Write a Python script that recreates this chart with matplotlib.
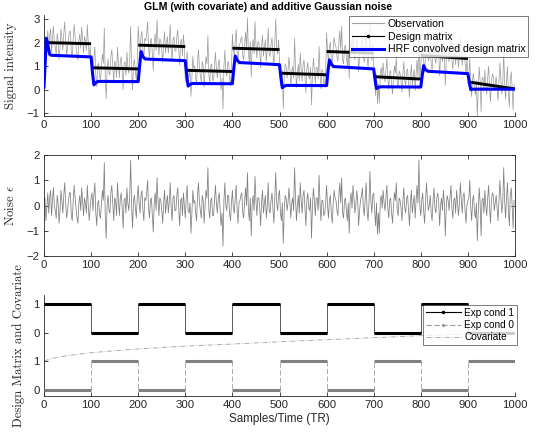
import numpy as np
import matplotlib
matplotlib.use("Agg")
import matplotlib.pyplot as plt
from matplotlib.lines import Line2D

plt.rcParams['font.family'] = ['Liberation Sans', 'DejaVu Sans']
plt.rcParams['mathtext.fontset'] = 'cm'

# ---------------- data ----------------
block_edges = [0, 100, 200, 300, 400, 500, 600, 700, 800, 900, 1000]
cond1 = [1, 0, 1, 0, 1, 0, 1, 0, 1, 0]
cond0 = [0, 1, 0, 1, 0, 1, 0, 1, 0, 1]

# design matrix (with covariate) value at start / end of each block
design_start = [2.00, 0.93, 1.89, 0.82, 1.76, 0.70, 1.62, 0.55, 1.45, 0.33]
design_end   = [1.95, 0.88, 1.83, 0.77, 1.70, 0.63, 1.55, 0.45, 1.32, 0.03]

# HRF convolved design matrix (key points)
hrf_t = [0, 5, 8, 12, 15, 100, 103, 106, 110, 115, 200, 203, 206, 210, 215, 300,
         303, 306, 310, 315, 400, 403, 406, 410, 415, 500, 503, 506, 510, 515, 600,
         603, 606, 610, 615, 700, 703, 706, 710, 715, 800, 803, 806, 810, 815, 900,
         903, 906, 910, 1000]
hrf_v = [0.1, 2.18, 1.9, 1.5, 1.46, 1.39, 0.7, 0.2, 0.3, 0.35, 0.34, 1.0, 1.62, 1.4, 1.3, 1.23,
         0.6, 0.15, 0.22, 0.26, 0.25, 0.9, 1.43, 1.25, 1.15, 1.06, 0.5, 0.08, 0.15, 0.18, 0.17,
         0.8, 1.26, 1.08, 0.98, 0.88, 0.4, 0.05, 0.1, 0.12, 0.11, 0.6, 1.02, 0.85, 0.78, 0.68,
         0.3, 0.0, 0.02, 0.02]

# Gaussian noise (sampled every 2 TR)
noise = [
    0.1, 0.3, -0.6, -0.1, 0.5, -0.3, 0.3, 0.6, -0.4, 0.2, 0.7, 0.0, -0.2, -0.5, 0.4, 0.1, -0.7, -0.2, 0.6, 0.2,
    -0.3, 0.4, 0.9, 0.1, -0.5, -0.2, 0.2, 0.5, 0.5, -0.4, -0.6, 0.2, 0.8, 0.3, -0.1, -0.5, -0.7, 0.1, 0.4, -0.2,
    0.7, 0.2, -0.4, 0.3, 0.1, -0.3, 0.8, 0.0, -0.6, -0.1, 0.3, 0.5, -0.2, 0.4, 0.9, -0.3, -0.8, 0.1, 0.2, -0.4,
    -0.5, 0.1, 0.6, 0.2, 1.7, -0.4, -1.3, 0.0, 0.4, -0.2, -0.3, 0.5, 0.8, 0.1, -0.6, 0.3, 0.2, -0.4, 0.9, 0.2,
    -0.4, 0.3, 0.5, -0.1, -0.9, 0.2, 0.3, -0.3, 0.7, 0.1, -0.2, 0.4, 1.8, 0.0, -0.9, 0.2, 0.4, -0.1, -0.5, 0.3,
    0.8, 0.1, -0.3, 0.4, 0.6, -0.2, -0.6, 0.3, 0.2, 0.5, 1.0, -0.1, -0.5, 0.2, 0.3, -0.4, -1.05, 0.1, 0.5, -0.2,
    1.1, 0.2, -0.4, 0.3, 0.2, -0.2, -0.7, 0.1, 0.6, -0.3, 0.1, 0.4, -0.3, 0.2, 0.9, -0.1, -0.6, 0.3, 0.4, -0.2,
    -0.2, 0.4, 0.7, -0.1, -0.8, 0.2, 0.3, -0.4, 0.5, 0.0, -0.5, 0.3, 0.8, -0.2, -0.3, 0.1, -1.1, -0.3, 0.6, 0.1,
    0.2, -0.3, -0.6, 0.4, 0.9, 0.1, -0.2, -0.5, 0.4, 0.2, -0.7, 0.0, 0.6, 0.3, 1.5, -0.2, -0.5, 0.2, 0.3, -0.4,
    -0.4, 0.2, 0.8, 0.1, -0.3, 0.3, 0.5, -0.2, -0.8, -0.3, -1.6, 0.2, 0.9, 0.0, -0.2, 0.4, 0.4, -0.3, -0.6, 0.1,
    0.6, -0.1, -0.3, 0.3, 0.8, -0.2, -0.7, 0.1, 0.2, 0.4, 0.5, -0.3, -0.5, 0.2, 0.7, 0.0, 1.3, -0.2, -0.6, 0.3,
    -1.2, 0.1, 0.4, -0.2, 1.15, 0.2, -0.4, 0.3, 0.3, -0.1, -0.8, 0.2, 0.6, -0.3, 0.1, 0.4, -0.5, 0.0, 0.9, -0.2,
    -0.3, 0.2, 0.5, -0.1, -0.7, 0.3, 1.3, 0.1, -0.2, 0.4, 0.6, -0.3, -0.6, 0.1, -1.5, -0.2, 0.4, 0.3, -0.2, 0.1,
    0.7, 0.2, -0.5, 0.1, 0.3, -0.2, 1.5, 0.3, -0.6, 0.0, 0.4, -0.3, 0.9, 0.2, -0.3, 0.4, 0.6, -0.1, -0.8, 0.2,
    0.5, -0.1, -0.2, 0.3, -1.3, 0.0, 0.7, 0.2, -0.4, 0.3, 0.3, -0.2, 1.2, 0.1, -0.6, 0.2, 0.2, -0.4, -0.3, 0.1,
    0.8, 0.0, -0.5, 0.2, 0.4, -0.3, -0.7, 0.1, 0.6, 0.3, 0.2, -0.2, -0.4, 0.4, 0.9, 0.1, 1.1, -0.3, -0.5, 0.2,
    0.3, -0.2, -0.6, 0.1, -1.1, 0.2, 0.5, -0.1, 0.8, 0.3, -0.3, 0.0, 0.6, 0.2, -0.8, -0.2, 0.2, 0.4, 0.7, -0.1,
    -0.4, 0.3, 0.9, -0.2, -0.6, 0.1, 1.35, 0.2, -0.3, 0.4, 0.5, -0.2, -0.8, 0.1, -1.15, -0.3, -1.1, 0.2, 0.4, -0.1,
    0.6, 0.1, -0.2, 0.3, 0.8, -0.1, -0.5, 0.2, 0.3, -0.3, -0.7, 0.0, 0.5, 0.2, 0.9, -0.2, -0.4, 0.3, 0.2, -0.1,
    -0.6, 0.2, 0.7, -0.1, -0.3, 0.3, 0.4, -0.2, -0.8, 0.1, 0.6, -0.3, 0.1, 0.4, -0.5, 0.2, 0.8, 0.1, 1.8, 0.0,
    -0.4, 0.2, 0.5, -0.2, -0.7, 0.1, 0.9, 0.3, -0.2, 0.0, 0.4, -0.3, -0.6, 0.2, 0.7, -0.1, -0.3, 0.3, 0.5, 0.1,
    -0.8, 0.0, 0.3, -0.2, 0.6, 0.1, -1.2, -0.1, 0.4, 0.2, -0.2, 0.3, 0.8, -0.1, -0.5, 0.2, 0.3, -0.3, 0.6, 0.1,
    -0.4, 0.1, 0.9, 0.2, -0.3, 0.4, 0.5, -0.2, -0.7, 0.0, 0.2, 0.3, 1.0, -0.1, -0.6, 0.2, 0.4, -0.3, -0.5, 0.1,
    -1.4, -0.2, 0.7, 0.1, -1.2, 0.2, 0.3, -0.3, 0.6, 0.0, -0.4, 0.3, 0.8, -0.1, -0.7, 0.2, 0.5, 0.4, -0.2, 0.1,
    0.4, -0.1, -0.6, 0.2, 1.0, 0.3, -0.3, 0.1, 1.5, 0.2, -0.5, 0.3, 0.9, -0.2, -0.8, 0.4, 0.7, 0.0, -0.9, 0.2,
]

# covariate (key points)
cov_t = [0, 10, 25, 50, 100, 150, 200, 300, 400, 500, 600, 700, 800, 900, 1000]
cov_v = [1.0, 1.07, 1.13, 1.2, 1.3, 1.37, 1.43, 1.53, 1.6, 1.68, 1.75, 1.82, 1.89, 1.95, 2.0]

xticks = [0, 100, 200, 300, 400, 500, 600, 700, 800, 900, 1000]

# ---------------- figure ----------------
W, H = 536, 433
fig = plt.figure(figsize=(W / 100, H / 100), dpi=100)

def axes_px(left, top, right, bottom):
    return fig.add_axes([left / W, 1 - bottom / H, (right - left) / W, (bottom - top) / H])

axcol = '#262626'
tick_fs = 8.2
serif = ['cmr10', 'DejaVu Serif']

def style(ax, box):
    for s in ['top', 'right']:
        ax.spines[s].set_visible(box)
    for s in ax.spines.values():
        s.set_color(axcol)
        s.set_linewidth(0.6)
    ax.tick_params(direction='in', length=3, width=0.6, color=axcol, labelsize=tick_fs,
                   labelcolor=axcol, pad=3, top=box, right=box)
    ax.set_xlim(0, 1000)
    ax.set_xticks(xticks)

noise_t = np.linspace(0, 1000, len(noise), endpoint=False)
noise_a = np.array(noise)

# ---- panel 1 ----
ax1 = axes_px(44, 15, 515, 116)
style(ax1, False)
design_at_noise = np.zeros_like(noise_t)
for i in range(len(cond1)):
    a, b = block_edges[i], block_edges[i + 1]
    m = (noise_t >= a) & (noise_t < b)
    design_at_noise[m] = np.interp(noise_t[m], [a, b], [design_start[i], design_end[i]])
obs = design_at_noise + noise_a
ax1.plot(noise_t, obs, color='#9a9a9a', lw=0.5, zorder=1)
for i in range(len(cond1)):
    ax1.plot([block_edges[i], block_edges[i + 1]], [design_start[i], design_end[i]],
             color='black', lw=2.1, solid_capstyle='butt', zorder=2)
ax1.plot(hrf_t, hrf_v, color='#0000ff', lw=2.2, zorder=3)
ax1.set_ylim(-1.12, 3.17)
ax1.set_yticks([-1, 0, 1, 2, 3])
ax1.set_ylabel('Signal intensity', fontsize=9.2, color=axcol, family=serif)
ax1.yaxis.set_label_coords(-0.057, 0.5)
h1 = [Line2D([], [], color='#a0a0a0', lw=0.8),
      Line2D([], [], color='black', lw=0.8, marker='.', markersize=3),
      Line2D([], [], color='#0000ff', lw=2.2)]
leg1 = ax1.legend(h1, ['Observation', 'Design matrix', 'HRF convolved design matrix'],
                  loc='upper right', bbox_to_anchor=(528 / W, 1 - 16.5 / H),
                  bbox_transform=fig.transFigure, fontsize=7.6, frameon=True, fancybox=False,
                  handlelength=3.0, handletextpad=0.4, borderpad=0.25, labelspacing=0.25,
                  borderaxespad=0)
leg1.get_frame().set_edgecolor('#404040')
leg1.get_frame().set_linewidth(0.6)
leg1.set_zorder(10)

# ---- panel 2 ----
ax2 = axes_px(44, 155, 515, 256)
style(ax2, True)
ax2.plot(noise_t, noise_a, color='#7f7f7f', lw=0.55)
ax2.set_ylim(-2, 2)
ax2.set_yticks([-2, -1, 0, 1, 2])
ax2.set_ylabel(r'Noise $\epsilon$', fontsize=9.2, color=axcol, family=serif)
ax2.yaxis.set_label_coords(-0.057, 0.5)

# ---- panel 3 ----
ax3 = axes_px(44, 295, 515, 396)
style(ax3, False)
off1, off0 = 2, 0
for i in range(len(cond1)):
    a, b = block_edges[i], block_edges[i + 1]
    ax3.plot([a, b], [off1 + cond1[i]] * 2, color='black', lw=2.2, solid_capstyle='butt', zorder=3)
    ax3.plot([a, b], [off0 + cond0[i]] * 2, color='#808080', lw=2.2, solid_capstyle='butt', zorder=3)
    if i > 0:
        ax3.plot([a, a], [off1 + cond1[i - 1], off1 + cond1[i]], color='#404040', lw=0.6, zorder=2)
        ax3.plot([a, a], [off0 + cond0[i - 1], off0 + cond0[i]], color='#a0a0a0', lw=0.6,
                 ls=(0, (6, 3)), zorder=2)
ax3.plot(cov_t, cov_v, color='#a0a0a0', lw=0.6, ls=(0, (6, 2, 1, 2)), zorder=1)
ax3.set_ylim(-0.2, 3.3)
ax3.set_yticks([0, 1, 2, 3])
ax3.set_yticklabels(['0', '1', '0', '1'])
ax3.set_xlabel('Samples/Time (TR)', fontsize=8.4, color=axcol, labelpad=2)
ax3.set_ylabel('Design Matrix and Covariate', fontsize=9.2, color=axcol, family=serif)
ax3.yaxis.set_label_coords(-0.04, 0.5)
h3 = [Line2D([], [], color='black', lw=0.8, marker='.', markersize=3),
      Line2D([], [], color='#a0a0a0', lw=0.8, ls=(0, (5, 2)), marker='.', markersize=3),
      Line2D([], [], color='#a0a0a0', lw=0.6, ls=(0, (6, 2, 1, 2)))]
leg3 = ax3.legend(h3, ['Exp cond 1', 'Exp cond 0', 'Covariate'],
                  loc='upper right', bbox_to_anchor=(517 / W, 1 - 305 / H),
                  bbox_transform=fig.transFigure, fontsize=7.2, frameon=True, fancybox=False,
                  handlelength=3.5, handletextpad=0.4, borderpad=0.25, labelspacing=0.25,
                  borderaxespad=0)
leg3.get_frame().set_edgecolor('#404040')
leg3.get_frame().set_linewidth(0.6)
leg3.set_zorder(10)

fig.text(0.5, 1 - 10.5 / H, 'GLM (with covariate) and additive Gaussian noise',
         ha='center', va='baseline', fontsize=7.6, fontweight='bold', color='black')

fig.savefig('out.png', dpi=100)
